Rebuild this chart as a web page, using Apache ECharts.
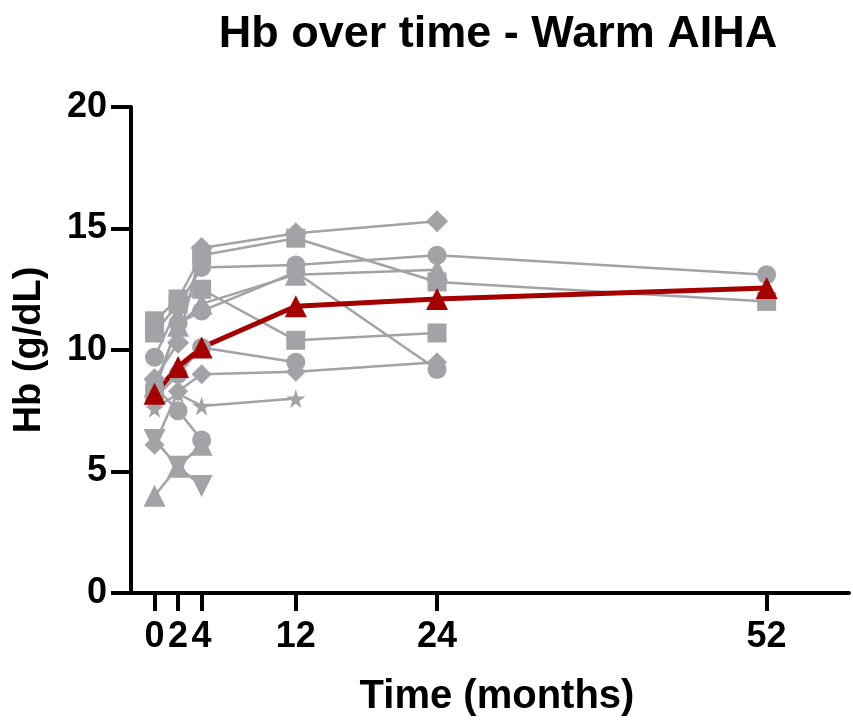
<!DOCTYPE html>
<html lang="en">
<head>
    <meta charset="UTF-8">
    <title>Hb over time - Warm AIHA</title>
    <script src="https://cdn.jsdelivr.net/npm/echarts@6/dist/echarts.min.js"></script>
    <style>
        html, body { margin: 0; padding: 0; background: #fff; }
        #main { width: 853px; height: 723px; }
    </style>
</head>
<body>
    <div id="main"></div>
    <script type="text/javascript">
        // time points (months) and tick labels
        var months = [0, 2, 4, 12, 24, 52];
        var tickValues = [0, 2, 4, 12, 24, 52];

        // Hb per patient, one value per time point (null = no measure)
        var hbP1 = [8.8, 10.3, 14.2, 14.8, 15.3, null];
        var hbP2 = [11.2, 12.1, 13.9, 14.6, 12.8, 12.0];
        var hbP3 = [9.7, 11.8, 13.4, 13.5, 13.9, 13.1];
        var hbP4 = [8.5, 11.0, 11.9, 13.1, 13.3, null];
        var hbP5 = [8.3, 11.1, 11.6, 13.2, 9.2, null];
        var hbP6 = [10.7, 11.9, 12.5, 10.4, 10.7, null];
        var hbP7 = [8.0, 9.0, 10.1, 9.5, null, null];
        var hbP8 = [6.1, 8.3, 9.0, 9.1, 9.5, null];
        var hbP9 = [7.6, 8.2, 7.7, 8.0, null, null];
        var hbP10 = [8.5, 7.5, 6.3, null, null, null];
        var hbP11 = [4.0, 5.2, 6.1, null, null, null];
        var hbP12 = [6.3, 5.2, 4.4, null, null, null];
        // mean line
        var hbMean = [8.2, 9.3, 10.1, 11.8, 12.1, 12.55];

        var STAR = 'path://M50,0 L61,35 L98,35 L68,57 L79,91 L50,70 L21,91 L32,57 L2,35 L39,35 Z';
        var DOWN = 'path://M0,0 L10,0 L5,9 Z';

        var patients = [
            { d: hbP1, sym: 'diamond', size: 22 },
            { d: hbP2, sym: 'rect', size: 19 },
            { d: hbP3, sym: 'circle', size: 19 },
            { d: hbP4, sym: 'triangle', size: 22 },
            { d: hbP5, sym: 'circle', size: 19 },
            { d: hbP6, sym: 'rect', size: 19 },
            { d: hbP7, sym: 'circle', size: 19 },
            { d: hbP8, sym: 'diamond', size: 20 },
            { d: hbP9, sym: STAR, size: 19 },
            { d: hbP10, sym: 'circle', size: 19 },
            { d: hbP11, sym: 'triangle', size: 22 },
            { d: hbP12, sym: DOWN, size: 22 }
        ];

        function toPairs(arr) {
            var out = [];
            arr.forEach(function (v, i) {
                if (v != null) out.push([months[i], v]);
            });
            return out;
        }

        var FONT = 'Liberation Sans, Arial, Helvetica, sans-serif';
        var GRAY = '#a2a2a7';
        var RED = '#a50000';

        var series = patients.map(function (p) {
            return {
                type: 'line',
                data: toPairs(p.d),
                symbol: p.sym,
                symbolSize: p.size,
                showAllSymbol: true,
                lineStyle: { color: GRAY, width: 2.5 },
                itemStyle: { color: GRAY },
                emphasis: { disabled: true },
                animation: false
            };
        });
        series.push({
            type: 'line',
            data: toPairs(hbMean),
            symbol: 'triangle',
            symbolSize: 22,
            lineStyle: { color: RED, width: 5 },
            itemStyle: { color: RED },
            emphasis: { disabled: true },
            z: 3,
            animation: false
        });

        var chart = echarts.init(document.getElementById('main'));
        chart.setOption({
            backgroundColor: '#fff',
            title: {
                text: 'Hb over time - Warm AIHA',
                left: 493,
                textAlign: 'center',
                top: 7,
                textStyle: { fontFamily: FONT, fontSize: 45, fontWeight: 'bold', color: '#000' }
            },
            grid: { left: 131, right: 4, top: 107, bottom: 130 },
            xAxis: {
                type: 'value',
                min: -2,
                max: 59,
                name: 'Time (months)',
                nameLocation: 'middle',
                nameGap: 84,
                nameTextStyle: { fontFamily: FONT, fontSize: 40, fontWeight: 'bold', color: '#000', padding: [0, 0, 0, 14] },
                axisLine: { show: true, lineStyle: { color: '#000', width: 4 } },
                axisTick: { show: true, length: 18, lineStyle: { color: '#000', width: 4 }, customValues: tickValues },
                axisLabel: { margin: 26, fontFamily: FONT, fontSize: 36, fontWeight: 'bold', color: '#000', customValues: tickValues },
                splitLine: { show: false }
            },
            yAxis: {
                type: 'value',
                min: 0,
                max: 20,
                interval: 5,
                name: 'Hb (g/dL)',
                nameLocation: 'middle',
                nameGap: 82,
                nameTextStyle: { fontFamily: FONT, fontSize: 38, fontWeight: 'bold', color: '#000' },
                axisLine: { show: true, onZero: false, lineStyle: { color: '#000', width: 4 } },
                axisTick: { show: true, length: 20, lineStyle: { color: '#000', width: 4 } },
                axisLabel: { margin: 24, fontFamily: FONT, fontSize: 36, fontWeight: 'bold', color: '#000' },
                splitLine: { show: false }
            },
            series: series
        });
    </script>
</body>
</html>
